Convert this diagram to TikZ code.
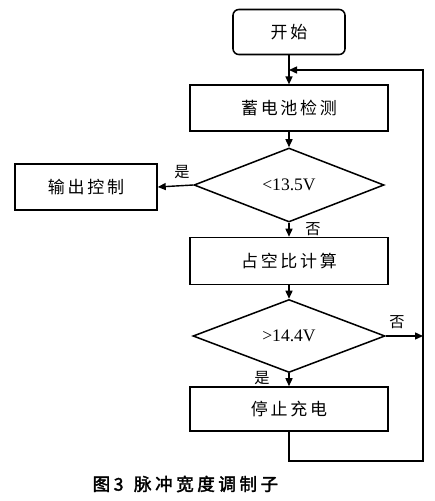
\documentclass[tikz,border=0pt]{standalone}
\usepackage{fontspec}
\setmainfont{Liberation Serif}
\newfontfamily\cjk[LetterSpace=16]{Noto Sans CJK SC}
\newfontfamily\cjkbold[LetterSpace=20,FakeBold=2]{Noto Sans CJK SC}
\usepackage{tikz}
\usetikzlibrary{positioning,arrows.meta,shapes.geometric}

\begin{document}
\begin{tikzpicture}[
    x=0.03cm, y=-0.03cm,
    >={Triangle[length=2.4mm,width=2.1mm]},
    line width=1.1pt,
    block/.style={
        rectangle, draw=black, fill=white,
        minimum height=1.37cm, minimum width=5.94cm,
        font=\fontsize{14.5}{16}\selectfont\cjk, align=center,
        line width=1.3pt
    },
    term/.style={
        block, rounded corners=5pt,
        minimum width=3.36cm, minimum height=1.35cm
    },
    test/.style={
        diamond, draw=black, inner sep=0pt,
        minimum width=5.7cm, minimum height=2.22cm,
        font=\fontsize{15}{17}\selectfont, line width=1.3pt
    },
    arr/.style={->, line width=1.2pt},
    lab/.style={font=\fontsize{13}{15}\selectfont\cjk, inner sep=0pt},
]
\useasboundingbox (0,0) rectangle (434,501);

% ── Main column ──
\node[term]  (start) at (289, 32) {开始};
\node[block] (check) at (289,108) {蓄电池检测};
\node[test]  (low)   at (289,185) {<13.5V};
\node[block, minimum width=4.26cm] (out) at (86,187) {输出控制};
\node[block, minimum height=1.41cm] (duty) at (289,261) {占空比计算};
\node[test, minimum width=5.76cm, minimum height=2.19cm]
    (high) at (289,336) {>14.4V};
\node[block, minimum height=1.32cm] (stop) at (289,409) {停止充电};

% ── Loop-back corners ──
\coordinate (loopin) at (289, 70);
\coordinate (rtop)   at (423, 70);
\coordinate (rbot)   at (423,461);

\draw[arr] (start.south) -- (check.north);
\draw[arr] (check.south) -- (low.north);
\draw[arr] (low.west) -- (out.east);
\draw[arr] (low.south) -- (duty.north);
\draw[arr] (duty.south) -- (high.north);
\draw[arr] (high.south) -- (stop.north);
\draw[arr] (high.east) -- (high.east -| rtop);
\draw[arr] (stop.south) |- (rbot) -- (rtop) -- (loopin);

% ── Branch labels ──
\node[lab] (yes1) at (182,172) {是};
\node[lab] (no1)  at (313,229) {否};
\node[lab] (no2)  at (397,322) {否};
\node[lab] (yes2) at (262,378) {是};

% ── Caption ──
\node[font=\fontsize{15}{17}\selectfont\cjkbold, anchor=west, inner sep=0pt]
    (cap) at (92,484) {图3\hspace{0.6em}脉冲宽度调制子};

\end{tikzpicture}
\end{document}
